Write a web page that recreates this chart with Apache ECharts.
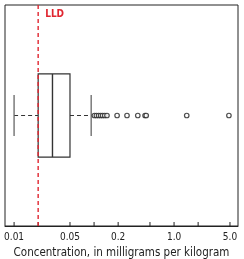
<!DOCTYPE html>
<html><head><meta charset="utf-8">
<script src="https://cdn.jsdelivr.net/npm/echarts@6/dist/echarts.min.js"></script>
<style>html,body{margin:0;padding:0;background:#fff}#c{width:244px;height:259px}</style>
</head><body><div id="c"></div>
<script>
var categories = ['Sample'];
// [lower whisker, Q1, median, Q3, upper whisker]
var boxStats = [0.01, 0.02, 0.0302, 0.05, 0.092];
var outliers = [0.101, 0.107, 0.114, 0.121, 0.128, 0.136, 0.145, 0.194, 0.258, 0.352, 0.434, 0.449, 1.44, 4.85];
var lldValue = 0.02;
var lldLabel = 'LLD';
var tickValues = [0.01, 0.02, 0.05, 0.1, 0.2, 0.5, 1, 2, 5];
var labelValues = [0.01, 0.05, 0.2, 1, 5];
var labelTexts = ['0.01', '0.05', '0.2', '1.0', '5.0'];
var axisTitle = 'Concentration, in milligrams per kilogram';

var FONT = '"DejaVu Sans Condensed", sans-serif';
var chart = echarts.init(document.getElementById('c'), null, {renderer: 'canvas'});

chart.setOption({
  animation: false,
  grid: {left: 5, right: 6, top: 5, bottom: 33, show: true, borderColor: '#222', borderWidth: 1, containLabel: false, outerBoundsMode: 'none'},
  xAxis: {
    type: 'log', min: 0.0077, max: 6.3,
    axisLine: {show: true, lineStyle: {color: '#222'}},
    axisTick: {show: false},
    minorTick: {show: false},
    splitLine: {show: false},
    axisLabel: {
      customValues: labelValues, margin: 6, color: '#222', fontSize: 10, fontFamily: FONT,
      formatter: function (v) {
        for (var i = 0; i < labelValues.length; i++) if (Math.abs(labelValues[i] - v) / v < 1e-6) return labelTexts[i];
        return '';
      }
    },
    name: axisTitle, nameLocation: 'middle', nameGap: 17,
    nameTextStyle: {color: '#222', fontSize: 11.5, fontFamily: FONT}
  },
  yAxis: {
    type: 'category', data: categories,
    axisLine: {show: false}, axisTick: {show: false}, axisLabel: {show: false}, splitLine: {show: false}
  },
  series: [
    {
      type: 'custom',
      data: [[0].concat(boxStats)],
      encode: {x: [1, 2, 3, 4, 5], y: 0},
      renderItem: function (params, api) {
        var cat = api.value(0);
        var lo = api.coord([api.value(1), cat]);
        var q1 = api.coord([api.value(2), cat]);
        var md = api.coord([api.value(3), cat]);
        var q3 = api.coord([api.value(4), cat]);
        var hi = api.coord([api.value(5), cat]);
        var band = api.size([0, 1])[1];
        var bh = band * 0.376, ch = band * 0.186;
        var cy = lo[1];
        var dash = {stroke: '#333', lineWidth: 1, lineDash: [4, 3]};
        var cap = {stroke: '#666', lineWidth: 1.3};
        return {type: 'group', children: [
          {type: 'line', shape: {x1: lo[0], y1: cy, x2: q1[0], y2: cy}, style: dash},
          {type: 'line', shape: {x1: q3[0], y1: cy, x2: hi[0], y2: cy}, style: dash},
          {type: 'line', shape: {x1: lo[0], y1: cy - ch / 2, x2: lo[0], y2: cy + ch / 2}, style: cap},
          {type: 'line', shape: {x1: hi[0], y1: cy - ch / 2, x2: hi[0], y2: cy + ch / 2}, style: cap},
          {type: 'rect', shape: {x: q1[0], y: cy - bh / 2, width: q3[0] - q1[0], height: bh}, style: {stroke: '#333', lineWidth: 1.2, fill: '#fff'}},
          {type: 'line', shape: {x1: md[0], y1: cy - bh / 2, x2: md[0], y2: cy + bh / 2}, style: {stroke: '#333', lineWidth: 1.4}}
        ]};
      },
      z: 2
    },
    {
      type: 'scatter',
      data: outliers.map(function (v) { return [v, 0]; }),
      symbol: 'circle', symbolSize: 4.5,
      itemStyle: {color: '#fff', borderColor: '#222', borderWidth: 1.2},
      z: 3
    },
    {
      type: 'custom',
      data: tickValues.map(function (v) { return [v]; }),
      encode: {x: 0},
      renderItem: function (params, api) {
        var cs = params.coordSys;
        var x = api.coord([api.value(0), 0])[0];
        var yb = cs.y + cs.height;
        return {type: 'line', shape: {x1: x, y1: yb, x2: x, y2: yb - 4}, style: {stroke: '#222', lineWidth: 1}};
      },
      z: 1
    },
    {
      type: 'custom',
      data: [[lldValue]],
      encode: {x: 0},
      renderItem: function (params, api) {
        var cs = params.coordSys;
        var x = api.coord([api.value(0), 0])[0];
        return {type: 'group', children: [
          {type: 'line', shape: {x1: x, y1: cs.y, x2: x, y2: cs.y + cs.height}, style: {stroke: '#e02630', lineWidth: 1.4, lineDash: [4, 3]}},
          {type: 'text', x: x + 7, y: cs.y + 9, style: {text: lldLabel, fill: '#e02630', font: 'bold 10px ' + FONT, verticalAlign: 'middle'}}
        ]};
      },
      z: 4
    }
  ]
});
</script></body></html>
